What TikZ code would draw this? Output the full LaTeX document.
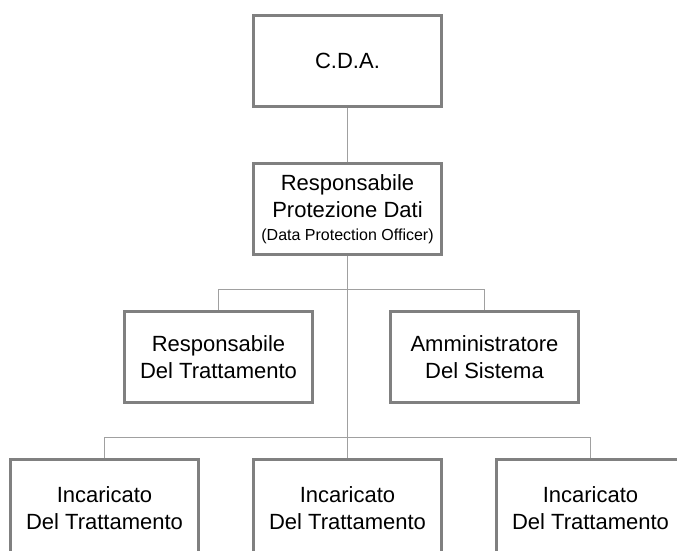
\documentclass[tikz,border=0pt]{standalone}
\usepackage{fontspec}
\setmainfont{Liberation Sans}
\usetikzlibrary{positioning}

\begin{document}
\begin{tikzpicture}[
    x=1pt, y=1pt,
    node distance=54pt,
    block/.style={
        draw=boxgray,
        rectangle,
        line width=3pt,
        minimum width=188pt,
        minimum height=91pt,
        align=center,
        font=\fontsize{22}{27}\selectfont
    },
    leaf/.style={
        block,
        minimum height=97pt
    },
    link/.style={
        draw=linkgray,
        line width=1pt
    }
]
\definecolor{boxgray}{RGB}{128,128,128}
\definecolor{linkgray}{RGB}{160,160,160}

\useasboundingbox (0,0) rectangle (677,-551);
\clip (0,0) rectangle (677,-551);

% Nodes
\node [block] (cda) at (347.5,-61) {C.D.A.};
\node [block, below=of cda] (rpd)
    {Responsabile\\Protezione Dati\\[-4pt]{\fontsize{16}{19}\selectfont (Data Protection Officer)}};
\node [block, below=of rpd, xshift=-129pt] (rdt) {Responsabile\\Del Trattamento};
\node [block, below=of rpd, xshift=137pt] (ads) {Amministratore\\Del Sistema};
\node [leaf, below=of rdt, xshift=129pt] (inc2) {Incaricato\\Del Trattamento};
\node [leaf, left=52pt of inc2] (inc1) {Incaricato\\Del Trattamento};
\node [leaf, right=52pt of inc2] (inc3) {Incaricato\\Del Trattamento};

% Junctions
\coordinate (j1) at ([yshift=-33pt]rpd.south);
\coordinate (j2) at ([yshift=21pt]inc2.north);

% Connectors
\draw [link] (cda) -- (rpd);
\draw [link] (rpd) -- (j1) -| (rdt);
\draw [link] (j1) -| (ads);
\draw [link] (j1) -- (j2) -- (inc2);
\draw [link] (j2) -| (inc1);
\draw [link] (j2) -| (inc3);

\end{tikzpicture}
\end{document}
